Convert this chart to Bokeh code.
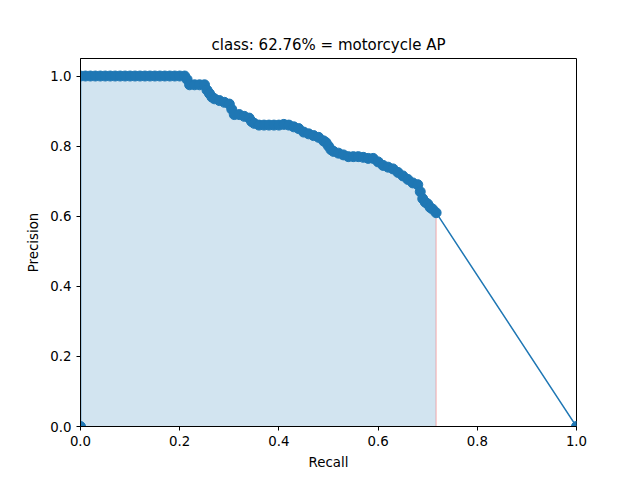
from bokeh.plotting import figure
from bokeh.embed import file_html
from bokeh.resources import INLINE
from bokeh.models import Range1d, FixedTicker

recall = [0.0, 0.0, 0.01, 0.02, 0.03, 0.04, 0.05, 0.06, 0.07, 0.08, 0.09, 0.10, 0.11, 0.12, 0.13, 0.14,
          0.15, 0.16, 0.17, 0.18, 0.19, 0.20, 0.21, 0.215, 0.22, 0.23, 0.24, 0.25, 0.255, 0.26, 0.265, 0.27, 0.28,
          0.29, 0.30, 0.305, 0.31, 0.32, 0.33, 0.34, 0.345, 0.35, 0.36, 0.37, 0.38, 0.39, 0.40, 0.41, 0.42,
          0.43, 0.44, 0.45, 0.46, 0.47, 0.48, 0.49, 0.495, 0.50, 0.505, 0.51, 0.52, 0.53, 0.54, 0.55, 0.56, 0.57,
          0.58, 0.59, 0.60, 0.61, 0.62, 0.63, 0.64, 0.65, 0.66, 0.67, 0.68, 0.685, 0.69, 0.695, 0.70, 0.705, 0.71,
          0.717, 1.0]
precision = [0.0, 1.0, 1.0, 1.0, 1.0, 1.0, 1.0, 1.0, 1.0, 1.0, 1.0, 1.0, 1.0, 1.0, 1.0, 1.0,
             1.0, 1.0, 1.0, 1.0, 1.0, 1.0, 1.0, 0.99, 0.975, 0.975, 0.975, 0.975, 0.96, 0.95, 0.94, 0.935, 0.93,
             0.925, 0.92, 0.905, 0.89, 0.89, 0.885, 0.88, 0.87, 0.865, 0.86, 0.86, 0.86, 0.86, 0.86, 0.862, 0.86,
             0.855, 0.85, 0.84, 0.835, 0.83, 0.825, 0.815, 0.81, 0.80, 0.79, 0.785, 0.78, 0.775, 0.77, 0.77, 0.77, 0.768,
             0.765, 0.765, 0.755, 0.745, 0.74, 0.735, 0.725, 0.715, 0.705, 0.695, 0.69, 0.67, 0.65, 0.64, 0.635, 0.625, 0.62,
             0.61, 0.0]

# interpolated (monotone) precision envelope, as used for AP area
env_x = [0.0] + recall[1:-1]
inner = precision[1:-1]
env_y = []
m = 0.0
for v in reversed(inner):
    m = max(m, v)
    env_y.append(m)
env_y = list(reversed(env_y))
env_y = [env_y[0]] + env_y

p = figure(width=632, height=472, output_backend="svg", toolbar_location=None,
           x_range=Range1d(0, 1), y_range=Range1d(0, 1.05),
           min_border_left=80, min_border_right=56, min_border_top=58, min_border_bottom=45,
           title="class: 62.76% = motorcycle AP")
p.title.align = "center"
p.title.text_font = "DejaVu Sans"
p.title.text_font_size = "15px"
p.title.text_font_style = "normal"
p.title.text_color = "black"

p.varea(x=env_x, y1=0, y2=env_y, fill_color="#1f77b4", fill_alpha=0.2)
p.line(x=[recall[-2], recall[-2], 1.0], y=[precision[-2], 0, 0], line_color="red", line_alpha=0.25, line_width=1.2)

p.line(recall, precision, line_color="#1f77b4", line_width=1.5)
p.scatter(recall, precision, size=10, color="#1f77b4")

p.xgrid.visible = False
p.ygrid.visible = False
p.outline_line_color = "black"
p.outline_line_alpha = 1
p.xaxis.ticker = FixedTicker(ticks=[0, 0.2, 0.4, 0.6, 0.8, 1.0])
p.yaxis.ticker = FixedTicker(ticks=[0, 0.2, 0.4, 0.6, 0.8, 1.0])
p.xaxis.major_label_overrides = {0: "0.0", 0.2: "0.2", 0.4: "0.4", 0.6: "0.6", 0.8: "0.8", 1.0: "1.0"}
p.yaxis.major_label_overrides = {0: "0.0", 0.2: "0.2", 0.4: "0.4", 0.6: "0.6", 0.8: "0.8", 1.0: "1.0"}
p.xaxis.axis_label = "Recall"
p.yaxis.axis_label = "Precision"
for ax in (p.xaxis, p.yaxis):
    ax.minor_tick_line_color = None
    ax.major_tick_in = 0
    ax.major_tick_out = 4
    ax.axis_line_color = "black"
    ax.major_tick_line_color = "black"
    ax.major_label_text_color = "black"
    ax.axis_label_text_color = "black"
    ax.major_label_text_font = "DejaVu Sans"
    ax.major_label_text_font_size = "10pt"
    ax.axis_label_text_font = "DejaVu Sans"
    ax.axis_label_text_font_size = "10pt"
    ax.axis_label_text_font_style = "normal"
    ax.axis_label_standoff = 6

open("out.html", "w").write(file_html(p, INLINE))
